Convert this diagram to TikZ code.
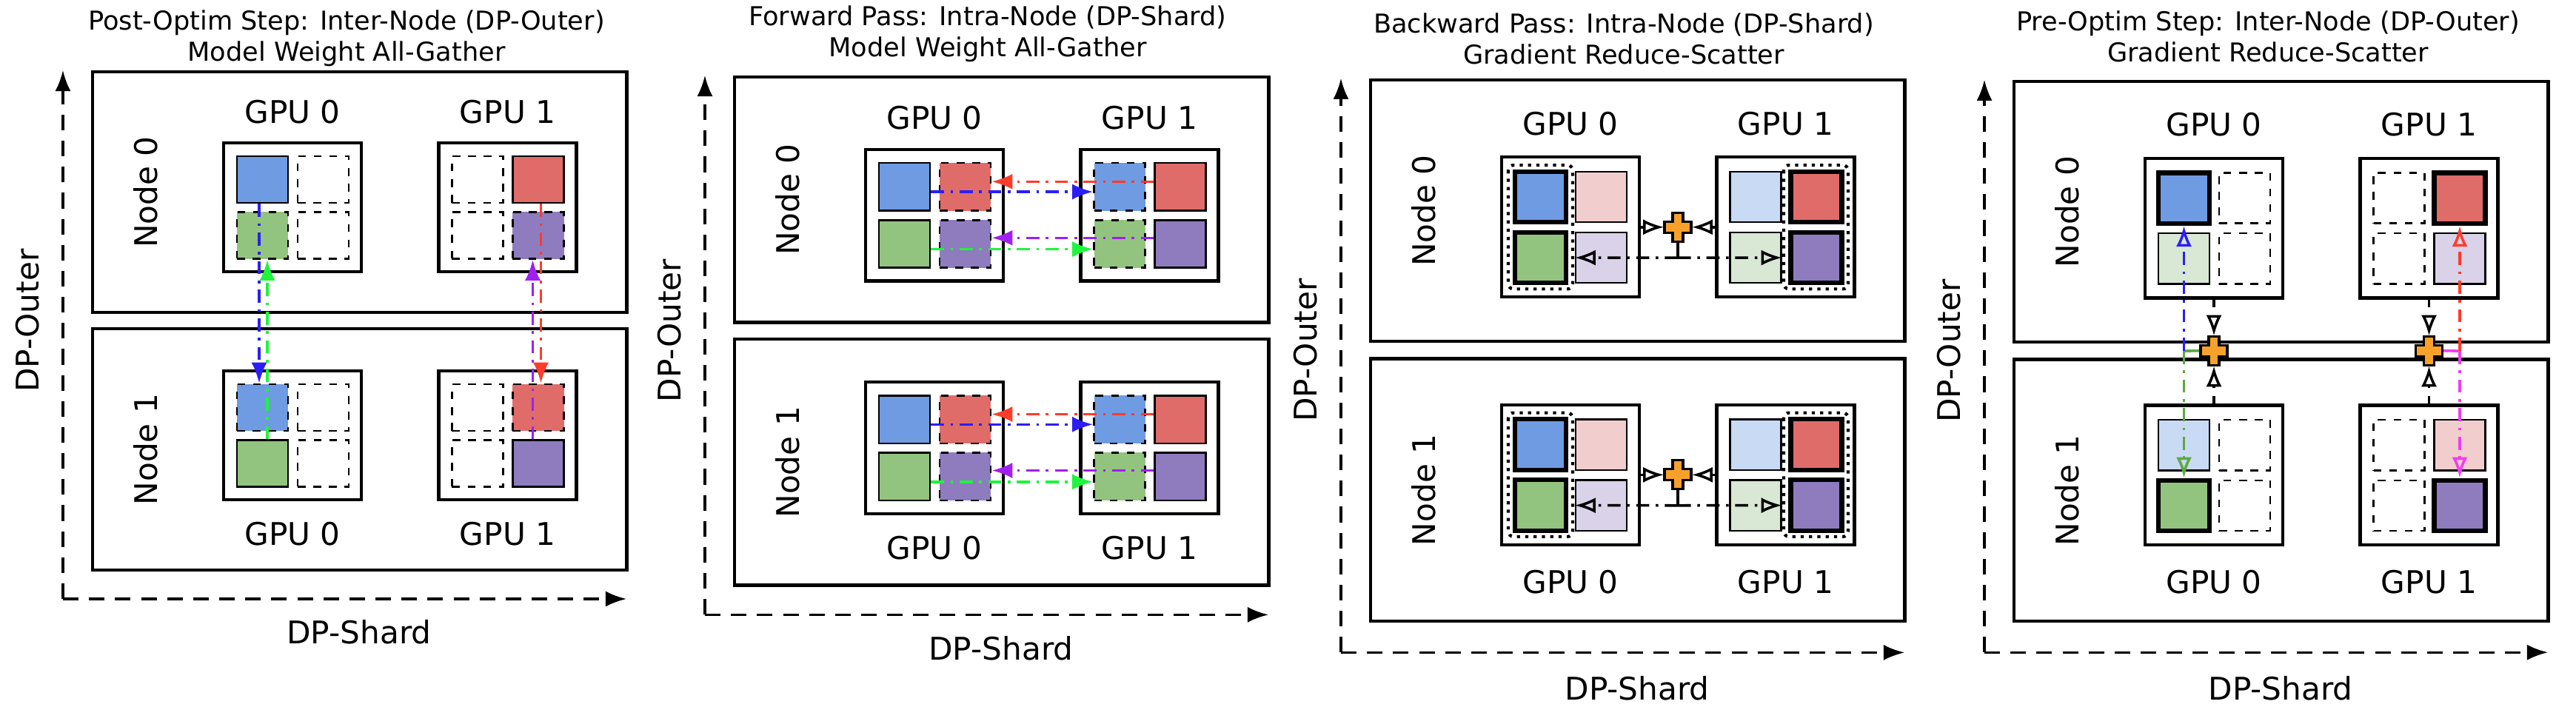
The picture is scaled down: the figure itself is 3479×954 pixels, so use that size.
\documentclass[tikz,border=0pt]{standalone}
\usepackage{fontspec}
\setmainfont{DejaVu Sans}
\usetikzlibrary{arrows.meta,calc}
\definecolor{cB}{HTML}{6F9BE3}
\definecolor{cR}{HTML}{E06C6A}
\definecolor{cG}{HTML}{93C47F}
\definecolor{cP}{HTML}{8F7CBF}
\definecolor{cBl}{HTML}{C9DAF5}
\definecolor{cRl}{HTML}{F2CDCD}
\definecolor{cGl}{HTML}{D9E8D4}
\definecolor{cPl}{HTML}{D9D2E8}
\definecolor{cO}{HTML}{F7A12C}
\definecolor{aB}{HTML}{2B1EF5}
\definecolor{aG}{HTML}{1EF53C}
\definecolor{aR}{HTML}{FF3B2A}
\definecolor{aP}{HTML}{A020F0}
\definecolor{aG2}{HTML}{5FA83F}
\definecolor{aM}{HTML}{F23CF0}
\newcommand\ps{1}
\newcommand\frm[1]{%
  \node[nodebox, minimum height={3.25cm*\ps}] (#1-n0) at (360.5,162.5) {};
  \node[nodebox, minimum height={3.26cm*\ps}] (#1-n1) at (360.5,510) {};
  \node[gpubox, minimum height={1.74cm*\ps}] (#1-n0g0) at (270,183) {};
  \node[gpubox, minimum height={1.74cm*\ps}] (#1-n0g1) at (560.5,183) {};
  \node[gpubox, minimum height={1.74cm*\ps}] (#1-n1g0) at (270,491) {};
  \node[gpubox, minimum height={1.74cm*\ps}] (#1-n1g1) at (560.5,491) {};
  \node[lbl] (#1-l00) at (270,54) {GPU 0};
  \node[lbl] (#1-l01) at (560.5,54) {GPU 1};
  \node[lbl] (#1-l10) at (270,624) {GPU 0};
  \node[lbl] (#1-l11) at (560.5,624) {GPU 1};
  \node[lbl,rotate=90] (#1-nl0) at (72,162.5) {Node 0};
  \node[lbl,rotate=90] (#1-nl1) at (72,510) {Node 1};
  \coordinate (#1-o) at (-40,712);
  \coordinate (#1-yt) at (-40,-2);
  \coordinate (#1-xt) at (721,712);
  \draw[axis] (#1-o) -- (#1-yt);
  \draw[axis] (#1-o) -- (#1-xt);
  \node[lbl,rotate=90] (#1-dpo) at (-88,336) {DP-Outer};
  \node[lbl] (#1-dps) at (360,757) {DP-Shard};
}
\newcommand\sqs[7]{%
  \node[sq,#4] (#1-a) at ({#2-40.5},{#3-37.5}) {};
  \node[sq,#5] (#1-b) at ({#2+41.5},{#3-37.5}) {};
  \node[sq,#6] (#1-c) at ({#2-40.5},{#3+38}) {};
  \node[sq,#7] (#1-d) at ({#2+41.5},{#3+38}) {};
}
\begin{document}
\begin{tikzpicture}[x=0.01cm,y=-0.01cm,
  nodebox/.style={draw, line width=1.3pt, minimum width=7.21cm, inner sep=0pt},
  gpubox/.style={draw, line width=1.2pt, fill=white, minimum width=1.86cm, inner sep=0pt},
  sq/.style={draw, line width=0.7pt, minimum width=0.69cm, minimum height={0.63cm*\ps}, inner sep=0pt},
  F/.style={fill=#1}, D/.style={fill=#1, dashed}, T/.style={fill=#1, line width=1.8pt},
  E/.style={fill=white, dashed},
  lbl/.style={font=\fontsize{12}{14}\selectfont, inner sep=0pt},
  ttl/.style={font=\fontsize{10}{12}\selectfont, align=center, inner sep=0pt},
  axis/.style={line width=0.9pt, dash pattern=on 6pt off 4pt, -{Latex[length=8pt,width=6pt]}},
  dd/.style={line width=1pt, dash pattern=on 5pt off 2.5pt on 1pt off 2.5pt},
  ft/.style={-{Latex[length=8pt,width=6pt]}},
  ot/.style={-{Latex[open,length=8pt,width=6pt]}},
  blk/.style={line width=1pt, black},
  dotbox/.style={line width=1.2pt, dotted, rounded corners=2pt}]
\useasboundingbox (0,0) rectangle (3479,954);

% ---------- Panel 1
\node[ttl] (p1-ttl) at (468,52) {Post-Optim Step: Inter-Node (DP-Outer)\\Model Weight All-Gather};
\begin{scope}[shift={(125,97)}]
\renewcommand\ps{1}
\frm{p1}
\sqs{p1-n0g0}{270}{183}{F=cB}{E}{D=cG}{E}
\sqs{p1-n0g1}{560.5}{183}{E}{F=cR}{E}{D=cP}
\sqs{p1-n1g0}{270}{491}{D=cB}{E}{F=cG}{E}
\sqs{p1-n1g1}{560.5}{491}{E}{D=cR}{E}{F=cP}
\draw[dd,aB,ft] ([xshift=-0.045cm]p1-n0g0-a.south) -- ([xshift=-0.045cm]p1-n1g0-a.north);
\draw[dd,aG,ft] ([xshift=0.065cm]p1-n1g0-c.north) -- ([xshift=0.065cm]p1-n0g0-c.south);
\draw[dd,aR,ft] ([xshift=0.035cm]p1-n0g1-b.south) -- ([xshift=0.035cm]p1-n1g1-b.north);
\draw[dd,aP,ft] ([xshift=-0.075cm]p1-n1g1-d.north) -- ([xshift=-0.075cm]p1-n0g1-d.south);
\end{scope}

% ---------- Panel 2
\node[ttl] (p2-ttl) at (1334,46) {Forward Pass: Intra-Node (DP-Shard)\\Model Weight All-Gather};
\begin{scope}[shift={(992,104)},yscale=1.02]
\renewcommand\ps{1.02}
\frm{p2}
\foreach \k/\cy in {0/183,1/491}{
  \sqs{p2-n\k g0}{270}{\cy}{F=cB}{D=cR}{F=cG}{D=cP}
  \sqs{p2-n\k g1}{560.5}{\cy}{D=cB}{F=cR}{D=cG}{F=cP}
  \draw[dd,aR,ft] ([yshift=0.07cm]p2-n\k g1-b.west) -- ([yshift=0.07cm]p2-n\k g0-b.east);
  \draw[dd,aB,ft] ([yshift=-0.065cm]p2-n\k g0-a.east) -- ([yshift=-0.065cm]p2-n\k g1-a.west);
  \draw[dd,aP,ft] ([yshift=0.08cm]p2-n\k g1-d.west) -- ([yshift=0.08cm]p2-n\k g0-d.east);
  \draw[dd,aG,ft] ([yshift=-0.07cm]p2-n\k g0-c.east) -- ([yshift=-0.07cm]p2-n\k g1-c.west);
}
\end{scope}

% ---------- Panel 3
\node[ttl] (p3-ttl) at (2193,52) {Backward Pass: Intra-Node (DP-Shard)\\Gradient Reduce-Scatter};
\begin{scope}[shift={(1851,108)},yscale=1.086]
\renewcommand\ps{1.086}
\frm{p3}
\foreach \k/\cy in {0/183,1/491}{
  \sqs{p3-n\k g0}{270}{\cy}{T=cB}{F=cRl}{T=cG}{F=cPl}
  \sqs{p3-n\k g1}{560.5}{\cy}{F=cBl}{T=cR}{F=cGl}{T=cP}
  \draw[dotbox] ({186},{\cy-77}) rectangle ({273},{\cy+77});
  \draw[dotbox] ({558},{\cy-77}) rectangle ({645},{\cy+77});
  \node[inner sep=0pt, minimum width=0.36cm, minimum height={0.36cm*\ps}] (p3-pl\k) at (415,\cy) {};
  \draw[blk,ot] (p3-n\k g0.east |- p3-pl\k.west) -- (p3-pl\k.west);
  \draw[blk,ot] (p3-n\k g1.west |- p3-pl\k.east) -- (p3-pl\k.east);
  \coordinate (p3-st\k) at (p3-pl\k |- p3-n\k g0-d.center);
  \draw[blk] (p3-pl\k.south) -- (p3-st\k);
  \draw[dd,black,ot] (p3-st\k) -- (p3-n\k g0-d.west);
  \draw[dd,black,ot] (p3-st\k) -- (p3-n\k g1-c.east);
  \draw[line width=0.9pt, fill=cO] (408,\cy-18) -- (422,\cy-18) -- (422,\cy-7) -- (433,\cy-7)
    -- (433,\cy+7) -- (422,\cy+7) -- (422,\cy+18) -- (408,\cy+18) -- (408,\cy+7)
    -- (397,\cy+7) -- (397,\cy-7) -- (408,\cy-7) -- cycle;
}
\end{scope}

% ---------- Panel 4
\node[ttl] (p4-ttl) at (3063,49) {Pre-Optim Step: Inter-Node (DP-Outer)\\Gradient Reduce-Scatter};
\begin{scope}[shift={(2720,110)},yscale=1.083]
\renewcommand\ps{1.083}
\frm{p4}
\sqs{p4-n0g0}{270}{183}{T=cB}{E}{F=cGl}{E}
\sqs{p4-n0g1}{560.5}{183}{E}{T=cR}{E}{F=cPl}
\sqs{p4-n1g0}{270}{491}{F=cBl}{E}{T=cG}{E}
\sqs{p4-n1g1}{560.5}{491}{E}{F=cRl}{E}{T=cP}
\node[inner sep=0pt, minimum width=0.36cm, minimum height={0.36cm*\ps}] (p4-pl0) at (270,336) {};
\node[inner sep=0pt, minimum width=0.36cm, minimum height={0.36cm*\ps}] (p4-pl1) at (560.5,336) {};
\draw[blk,dashed,ot] (p4-n0g0.south) -- (p4-pl0.north);
\draw[blk,dashed,ot] (p4-n1g0.north) -- (p4-pl0.south);
\draw[blk,dashed,ot] (p4-n0g1.south) -- (p4-pl1.north);
\draw[blk,dashed,ot] (p4-n1g1.north) -- (p4-pl1.south);
\coordinate (p4-j0) at (p4-n0g0-a.center |- p4-pl0);
\coordinate (p4-j1) at (p4-n0g1-b.center |- p4-pl1);
\draw[aG2,line width=1pt] (p4-pl0.west) -- (p4-j0);
\draw[dd,aG2,ot] (p4-j0) -- (p4-n1g0-c.north);
\draw[dd,aB,ot] (p4-j0) -- (p4-n0g0-a.south);
\draw[aM,line width=1pt] (p4-pl1.east) -- (p4-j1);
\draw[dd,aR,ot] (p4-j1) -- (p4-n0g1-b.south);
\draw[dd,aM,ot] (p4-j1) -- (p4-n1g1-d.north);
\foreach \px in {270,560.5}{
  \draw[line width=0.9pt, fill=cO] (\px-7,318) -- (\px+7,318) -- (\px+7,329) -- (\px+18,329)
    -- (\px+18,343) -- (\px+7,343) -- (\px+7,354) -- (\px-7,354) -- (\px-7,343)
    -- (\px-18,343) -- (\px-18,329) -- (\px-7,329) -- cycle;
}
\end{scope}
\end{tikzpicture}
\end{document}
